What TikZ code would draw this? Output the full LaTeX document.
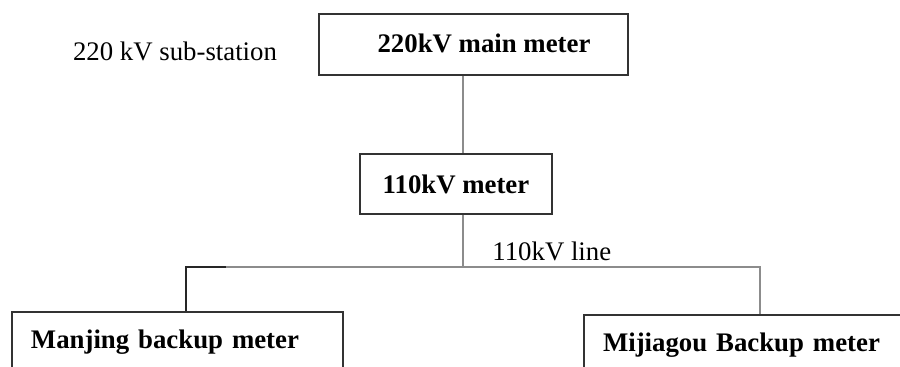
\documentclass[tikz,border=0pt]{standalone}
\usepackage{fontspec}
\setmainfont{Liberation Serif}
\usetikzlibrary{positioning}

\tikzset{
  meter/.style={rectangle, draw=black!80, line width=1pt, inner sep=0pt,
    minimum height=30.5pt, font=\bfseries\fontsize{13.4}{16}\selectfont},
  backup/.style={meter, anchor=north west, align=left, inner xsep=9.5pt},
  wire/.style={draw=black!45, line width=1pt},
  plain/.style={font=\fontsize{13.4}{16}\selectfont, inner sep=0pt}
}

\begin{document}
\begin{tikzpicture}[x=0.5pt, y=-0.5pt]
            \clip (0,0) rectangle (900,367);
            \draw
            (175, 51) node[plain](subst) {220 kV sub-station}
            (473.5, 44.5) node[meter, minimum width=154.5pt](mainm) {\hspace*{10.5pt}\raisebox{1pt}{220kV main meter}}
            (456, 184) node[meter, minimum width=96pt, minimum height=30pt](m110) {110kV meter}
            (11, 311) node[backup, text width=146.5pt](manjing) {Manjing backup meter}
            (583, 314) node[backup, text width=159.5pt](mijiagou) {Mijiagou Backup meter}
            (492, 251) node[plain, anchor=west](linelbl) {110kV line};

            \coordinate (drop) at (463, 267);
            \coordinate (busL) at (186, 267);
            \coordinate (busR) at (760, 267);
            \coordinate (busK) at (226, 267);

            \draw[wire] (mainm.south -| drop) -- (m110.north -| drop);
            \draw[wire] (m110.south -| drop) -- (drop);
            \draw[wire] (busL) -- (busR) -- (mijiagou.north -| busR);
            \draw[line width=1pt, black!85] (manjing.north -| busL) -- (busL) -- (busK);
        \end{tikzpicture}
\end{document}
